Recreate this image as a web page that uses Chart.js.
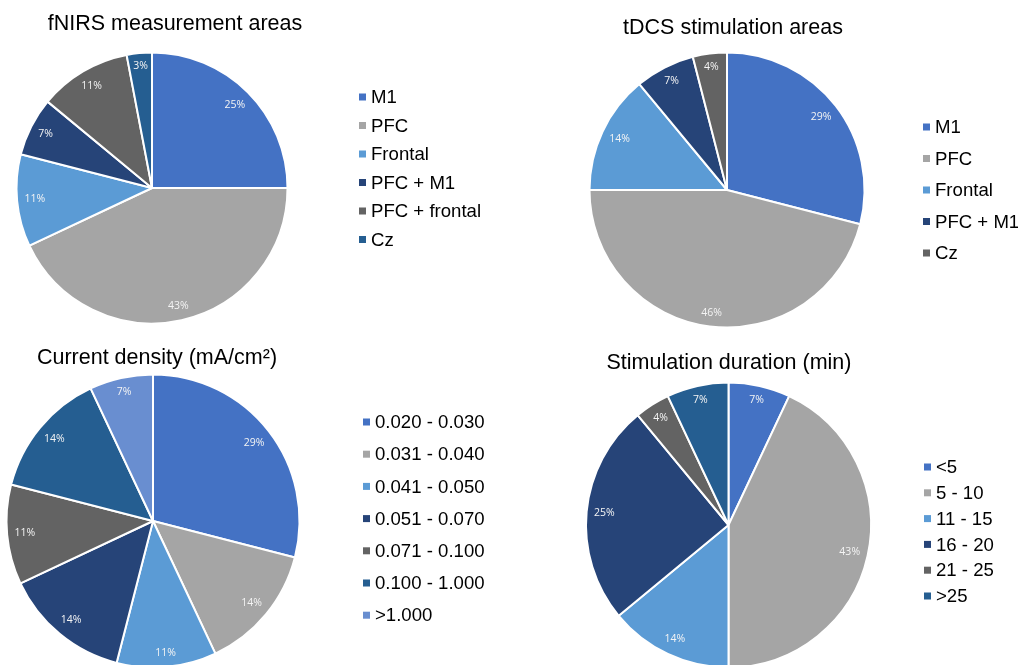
<!DOCTYPE html>
<html>
<head>
<meta charset="utf-8">
<script src="https://cdn.jsdelivr.net/npm/chart.js@4.4.1/dist/chart.umd.min.js"></script>
<style>
  html, body { margin: 0; padding: 0; background: #fff; overflow: hidden; }
  body { width: 1018px; height: 665px; position: relative; }
  canvas.layer { position: absolute; left: 0; top: 0; }
</style>
</head>
<body>
<canvas id="c1" class="layer" width="1018" height="700"></canvas>
<canvas id="c2" class="layer" width="1018" height="700"></canvas>
<canvas id="c3" class="layer" width="1018" height="700"></canvas>
<canvas id="c4" class="layer" width="1018" height="700"></canvas>
<script>
// ---- data ----
const fnirsLabels = ['M1', 'PFC', 'Frontal', 'PFC + M1', 'PFC + frontal', 'Cz'];
const fnirsValues = [25, 43, 11, 7, 11, 3];

const tdcsLabels = ['M1', 'PFC', 'Frontal', 'PFC + M1', 'Cz'];
const tdcsValues = [29, 46, 14, 7, 4];

const densityLabels = ['0.020 - 0.030', '0.031 - 0.040', '0.041 - 0.050', '0.051 - 0.070', '0.071 - 0.100', '0.100 - 1.000', '>1.000'];
const densityValues = [29, 14, 11, 14, 11, 14, 7];

const durationLabels = ['<5', '5 - 10', '11 - 15', '16 - 20', '21 - 25', '>25'];
const durationValues = [7, 43, 14, 25, 4, 7];

// Office-style palette
const BLUE = '#4472C4', GRAY = '#A5A5A5', LIGHTBLUE = '#5B9BD5', NAVY = '#264478',
      DARKGRAY = '#636363', TEAL = '#255E91', SOFTBLUE = '#698ED0';
const fnirsColors = [BLUE, GRAY, LIGHTBLUE, NAVY, DARKGRAY, TEAL];
const tdcsColors = [BLUE, GRAY, LIGHTBLUE, NAVY, DARKGRAY];
const densityColors = [BLUE, GRAY, LIGHTBLUE, NAVY, DARKGRAY, TEAL, SOFTBLUE];
const durationColors = [BLUE, GRAY, LIGHTBLUE, NAVY, DARKGRAY, TEAL];

const CANVAS_W = 1018, CANVAS_H = 700;
const TITLE_FONT = '21.5px "Liberation Sans", Arial, sans-serif';
const LEGEND_FONT = '18.6px "Liberation Sans", Arial, sans-serif';
const LABEL_FONT = '10.5px "Open Sans", sans-serif';

// Percentage labels placed just inside the rim of each slice
const sliceLabels = {
  id: 'sliceLabels',
  afterDatasetsDraw(chart) {
    const ctx = chart.ctx;
    const meta = chart.getDatasetMeta(0);
    const values = chart.data.datasets[0].data;
    ctx.save();
    ctx.font = LABEL_FONT;
    ctx.fillStyle = '#f4f4f4';
    ctx.textAlign = 'center';
    ctx.textBaseline = 'middle';
    meta.data.forEach((arc, i) => {
      const p = arc.getProps(['x', 'y', 'startAngle', 'endAngle', 'outerRadius'], true);
      const mid = (p.startAngle + p.endAngle) / 2;
      const txt = values[i] + '%';
      const w = ctx.measureText(txt).width;
      const h = 11;
      const c = Math.cos(mid), s = Math.sin(mid);
      const d = p.outerRadius - 7 - (Math.abs(c) * w / 2 + Math.abs(s) * h / 2);
      ctx.fillText(txt, p.x + c * d, p.y + s * d);
    });
    ctx.restore();
  }
};

// Title and side legend drawn at fixed spots for each panel
const panelText = {
  id: 'panelText',
  afterDraw(chart, args, opts) {
    const ctx = chart.ctx;
    ctx.save();
    ctx.fillStyle = '#000000';
    ctx.font = TITLE_FONT;
    ctx.textAlign = 'center';
    ctx.textBaseline = 'middle';
    ctx.fillText(opts.title, opts.titleX, opts.titleY);

    ctx.font = LEGEND_FONT;
    ctx.textAlign = 'left';
    const colors = chart.data.datasets[0].backgroundColor;
    chart.data.labels.forEach((lab, i) => {
      const y = opts.legendY + i * opts.legendStep;
      ctx.fillStyle = colors[i];
      ctx.fillRect(opts.legendX, y - 3.5, 7, 7);
      ctx.fillStyle = '#000000';
      ctx.fillText(lab, opts.legendX + 12, y + 1);
    });
    ctx.restore();
  }
};

function makePie(id, labels, values, colors, cx, cy, r, text) {
  // the arc border eats about a pixel of radius, so pad a touch wider
  const rr = r + 1.5;
  new Chart(document.getElementById(id), {
    type: 'pie',
    data: {
      labels: labels,
      datasets: [{
        data: values,
        backgroundColor: colors,
        borderColor: '#ffffff',
        borderWidth: 2
      }]
    },
    options: {
      responsive: false,
      animation: false,
      events: [],
      layout: {
        padding: {
          left: cx - rr,
          top: cy - rr,
          right: CANVAS_W - (cx + rr),
          bottom: CANVAS_H - (cy + rr)
        }
      },
      plugins: {
        legend: { display: false },
        tooltip: { enabled: false },
        title: { display: false },
        panelText: text
      }
    },
    plugins: [sliceLabels, panelText]
  });
}

makePie('c1', fnirsLabels, fnirsValues, fnirsColors, 152, 188, 135,
  { title: 'fNIRS measurement areas', titleX: 175, titleY: 24,
    legendX: 359, legendY: 97, legendStep: 28.5 });

makePie('c2', tdcsLabels, tdcsValues, tdcsColors, 727, 190, 137,
  { title: 'tDCS stimulation areas', titleX: 733, titleY: 28.5,
    legendX: 923, legendY: 127, legendStep: 31.5 });

makePie('c3', densityLabels, densityValues, densityColors, 153, 521, 146,
  { title: 'Current density (mA/cm\u00B2)', titleX: 157, titleY: 358,
    legendX: 363, legendY: 422, legendStep: 32.2 });

makePie('c4', durationLabels, durationValues, durationColors, 728.5, 525, 142,
  { title: 'Stimulation duration (min)', titleX: 729, titleY: 363,
    legendX: 924, legendY: 467, legendStep: 25.8 });
</script>
</body>
</html>
